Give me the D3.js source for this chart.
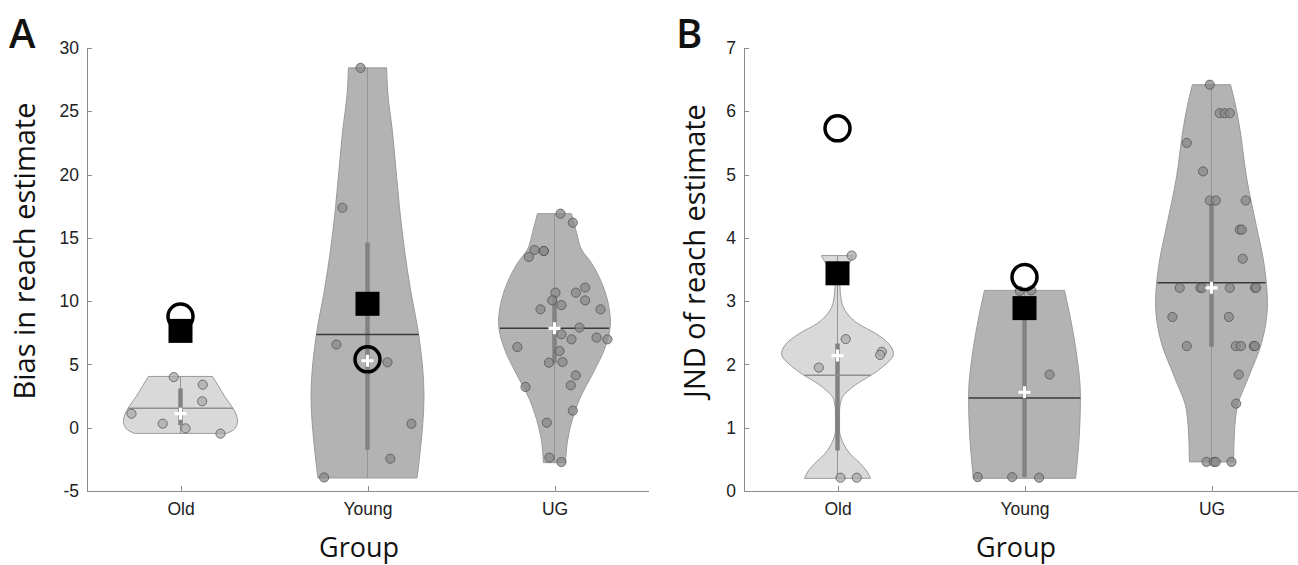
<!DOCTYPE html>
<html lang="en">
<head>
<meta charset="UTF-8">
<title>Reach estimate violins</title>
<script src="https://d3js.org/d3.v7.min.js"></script>
<style>
    body { margin: 0; background: #fff; }
    .axis text { font-family: "Liberation Sans", Arial, sans-serif; font-size: 17.5px; fill: #222; }
    .axis path, .axis line { stroke: #8c8c8c; shape-rendering: crispEdges; }
    .label { font-family: "Open Sans", sans-serif; fill: #111; }
</style>
</head>
<body>
<svg width="1298" height="565"></svg>
<script>

const groups = ["Old", "Young", "UG"];

// ---- panel A : bias ----
const biasTicks = [-5, 0, 5, 10, 15, 20, 25, 30];
// points: [value, jitter (category units)]
const biasOld = [[4.0, -0.036], [3.4, 0.119], [2.09, 0.116], [1.11, -0.262], [0.32, -0.095], [-0.05, 0.027], [-0.47, 0.214]];
const biasYoung = [[28.43, -0.037], [17.38, -0.134], [6.57, -0.166], [5.17, 0.107], [0.31, 0.235], [-2.45, 0.122], [-3.93, -0.232]];
const biasUG = [[16.91, 0.032], [16.2, 0.098], [14.04, -0.107], [13.49, -0.137], [13.96, -0.057], [13.96, -0.057],
    [10.67, 0.005], [10.06, -0.012], [9.69, 0.037], [9.35, -0.075], [10.67, 0.114], [11.07, 0.164], [10.06, 0.164],
    [9.35, 0.246], [7.91, 0.134], [7.38, 0.037], [6.98, 0.091], [7.12, 0.225], [6.98, 0.283], [6.37, -0.199],
    [6.06, 0.027], [5.14, -0.03], [5.19, 0.043], [4.14, 0.114], [3.35, 0.087], [3.22, -0.155], [1.35, 0.098],
    [0.4, -0.041], [-2.36, -0.027], [-2.71, 0.037]];
// violin outlines: [value, half width (category units)]
const biasOldViolin = [[-0.45, 0.246], [-0.1, 0.289], [0.5, 0.305], [1.0, 0.299], [1.6, 0.278], [2.5, 0.235], [3.3, 0.203], [4.05, 0.171]];
const biasYoungViolin = [[-3.97, 0.265], [-1.7, 0.283], [2.5, 0.302], [7.4, 0.273], [10.9, 0.23], [14, 0.198], [17.4, 0.171], [23.3, 0.134], [26.7, 0.107], [28.43, 0.102]];
const biasUGViolin = [[-2.76, 0.059], [-1, 0.07], [0.13, 0.086], [2.25, 0.134], [4.4, 0.209], [6.2, 0.267], [8.3, 0.299], [10.1, 0.283], [11.5, 0.251], [13, 0.198], [14.1, 0.144], [15.4, 0.118], [16.91, 0.091]];
// [iqr low, iqr high, mean, median]
const biasStats = [[0.2, 3.1, 1.53, 1.11], [-1.75, 14.63, 7.37, 5.29], [5.1, 10.5, 7.85, 7.85]];
const biasSquares = [7.65, 9.79, null];
const biasCircles = [8.79, 5.4, null];

// ---- panel B : JND ----
const jndTicks = [0, 1, 2, 3, 4, 5, 6, 7];
const jndOld = [[3.72, 0.076], [2.4, 0.044], [2.2, 0.237], [2.15, 0.228], [1.95, -0.1], [0.21, 0.016], [0.21, 0.103]];
const jndYoung = [[0.22, -0.25], [0.22, -0.066], [0.21, 0.078], [1.84, 0.134], [3.16, -0.025], [3.17, 0.037]];
const jndUG = [[6.42, -0.009], [5.97, 0.044], [5.97, 0.071], [5.97, 0.098], [5.5, -0.132], [5.05, -0.045],
    [4.59, -0.009], [4.59, 0.023], [4.59, 0.183], [4.13, 0.151], [4.13, 0.162], [3.67, 0.167],
    [3.21, -0.17], [3.21, -0.06], [3.21, -0.05], [3.21, 0.098], [3.21, 0.232], [3.21, 0.239],
    [2.75, -0.209], [2.75, 0.093], [2.29, -0.132], [2.29, 0.13], [2.29, 0.157], [2.29, 0.226], [2.29, 0.232],
    [1.84, 0.146], [1.38, 0.132], [0.46, -0.027], [0.46, 0.012], [0.46, 0.023], [0.46, 0.107]];
const jndOldViolin = [[0.2, 0.176], [0.3, 0.16], [0.43, 0.123], [0.6, 0.064], [0.75, 0.032], [0.95, 0.011], [1.25, 0.011], [1.45, 0.021],
    [1.64, 0.08], [1.91, 0.219], [2.17, 0.299], [2.35, 0.267], [2.49, 0.203], [2.65, 0.107], [2.8, 0.053], [3.0, 0.021],
    [3.25, 0.013], [3.45, 0.027], [3.6, 0.064], [3.72, 0.086]];
const jndYoungViolin = [[0.2, 0.273], [0.7, 0.289], [1.5, 0.299], [2.27, 0.273], [2.8, 0.241], [3.17, 0.214]];
const jndUGViolin = [[0.46, 0.118], [0.75, 0.12], [1.28, 0.134], [1.8, 0.198], [2.33, 0.267], [2.96, 0.299], [3.64, 0.278],
    [4.17, 0.241], [4.96, 0.187], [5.75, 0.15], [6.17, 0.123], [6.42, 0.102]];
const jndStats = [[0.64, 2.33, 1.83, 2.14], [0.22, 2.8, 1.47, 1.56], [2.28, 4.54, 3.29, 3.21]];
const jndSquares = [3.44, 2.89, null];
const jndCircles = [5.73, 3.38, null];

const violinFill = ["#d9d9d9", "#b3b3b3", "#b3b3b3"];
const dotFill = ["#a9a9a9", "#8a8a8a", "#8a8a8a"];
const meanColor = ["#8f8f8f", "#3a3a3a", "#3a3a3a"];

const svg = d3.select("svg");

function halfWidthAt(profile, v) {
    for (let i = 1; i < profile.length; i++) {
        if (v <= profile[i][0]) {
            const t = (v - profile[i - 1][0]) / (profile[i][0] - profile[i - 1][0]);
            return profile[i - 1][1] + t * (profile[i][1] - profile[i - 1][1]);
        }
    }
    return profile[profile.length - 1][1];
}

function drawPanel(p) {
    const x = d3.scaleLinear().domain([0.5, 3.5]).range([p.left, p.left + 561]);
    const y = d3.scaleLinear().domain(p.domain).range([491, 48]);
    const g = svg.append("g");

    // axes
    g.append("g").attr("class", "axis")
        .attr("transform", "translate(0,491)")
        .call(d3.axisBottom(x).tickValues([1, 2, 3]).tickFormat((d, i) => groups[i])
            .tickSizeInner(-5).tickSizeOuter(0).tickPadding(12));
    g.append("g").attr("class", "axis")
        .attr("transform", `translate(${p.left},0)`)
        .call(d3.axisLeft(y).tickValues(p.ticks).tickFormat(d => String(d))
            .tickSizeInner(-5).tickSizeOuter(0).tickPadding(8));

    const scale = x(1) - x(0);
    groups.forEach((grp, i) => {
        const cx = x(i + 1);
        const prof = p.violins[i];
        const area = d3.area()
            .y(d => y(d[0]))
            .x0(d => cx - d[1] * scale)
            .x1(d => cx + d[1] * scale)
            .curve(d3.curveMonotoneY);
        const vg = g.append("g");
        // violin body
        vg.append("path").datum(prof)
            .attr("d", area)
            .attr("fill", violinFill[i])
            .attr("stroke", "#9a9a9a")
            .attr("stroke-width", 1);
        // full-range thin line
        vg.append("line")
            .attr("x1", cx).attr("x2", cx)
            .attr("y1", y(prof[0][0])).attr("y2", y(prof[prof.length - 1][0]))
            .attr("stroke", "#959595").attr("stroke-width", 1);
        const s = p.stats[i];
        // IQR bar
        vg.append("line")
            .attr("x1", cx).attr("x2", cx)
            .attr("y1", y(s[0])).attr("y2", y(s[1]))
            .attr("stroke", "#828282").attr("stroke-width", 4.5);
        // mean line
        const hw = halfWidthAt(prof, s[2]) * scale;
        vg.append("line")
            .attr("x1", cx - hw).attr("x2", cx + hw)
            .attr("y1", y(s[2])).attr("y2", y(s[2]))
            .attr("stroke", meanColor[i]).attr("stroke-width", 1.5);
        // points
        vg.selectAll("circle.pt")
            .data(p.points[i])
            .join("circle")
            .attr("class", "pt")
            .attr("cx", d => x(i + 1 + d[1]))
            .attr("cy", d => y(d[0]))
            .attr("r", 4.6)
            .attr("fill", dotFill[i])
            .attr("fill-opacity", 0.75)
            .attr("stroke", "#4d4d4d")
            .attr("stroke-opacity", 0.7)
            .attr("stroke-width", 1);
        // median cross
        const my = y(s[3]);
        vg.append("path")
            .attr("d", `M${cx - 6},${my}H${cx + 6}M${cx},${my - 6}V${my + 6}`)
            .attr("stroke", "#fff").attr("stroke-width", 3.2);
        // open circle
        if (p.circles[i] !== null) {
            vg.append("circle")
                .attr("cx", cx).attr("cy", y(p.circles[i]))
                .attr("r", 12.5)
                .attr("fill", "none")
                .attr("stroke", "#000").attr("stroke-width", 3.5);
        }
        // filled square
        if (p.squares[i] !== null) {
            vg.append("rect")
                .attr("x", cx - 12).attr("y", y(p.squares[i]) - 12)
                .attr("width", 24).attr("height", 24)
                .attr("fill", "#000");
        }
    });

    // labels
    svg.append("text").attr("class", "label")
        .attr("transform", `translate(${p.ylabelX},${251}) rotate(-90)`)
        .attr("text-anchor", "middle")
        .attr("font-size", 29)
        .text(p.ylabel);
    svg.append("text").attr("class", "label")
        .attr("x", p.left + 272).attr("y", 557)
        .attr("text-anchor", "middle")
        .attr("font-size", 27)
        .text("Group");
    svg.append("text").attr("class", "label")
        .attr("x", p.letterX).attr("y", 48)
        .attr("font-size", 40)
        .attr("font-weight", 600)
        .text(p.letter);
}

drawPanel({
    left: 87, domain: [-5, 30], ticks: biasTicks,
    violins: [biasOldViolin, biasYoungViolin, biasUGViolin],
    points: [biasOld, biasYoung, biasUG],
    stats: biasStats, squares: biasSquares, circles: biasCircles,
    ylabel: "Bias in reach estimate", ylabelX: 35, letter: "A", letterX: 9
});
drawPanel({
    left: 744, domain: [0, 7], ticks: jndTicks,
    violins: [jndOldViolin, jndYoungViolin, jndUGViolin],
    points: [jndOld, jndYoung, jndUG],
    stats: jndStats, squares: jndSquares, circles: jndCircles,
    ylabel: "JND of reach estimate", ylabelX: 705, letter: "B", letterX: 676
});

</script>
</body>
</html>
